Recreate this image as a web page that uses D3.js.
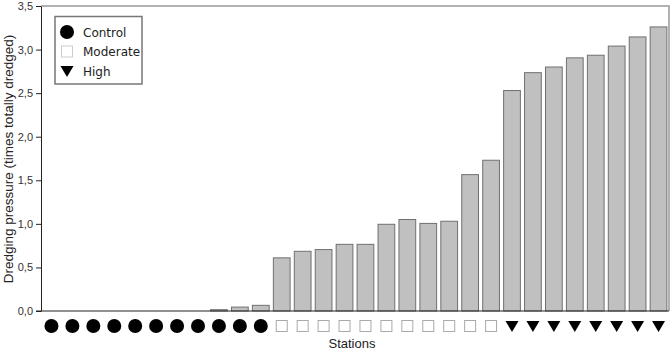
<!DOCTYPE html>
<html>
<head>
<meta charset="utf-8">
<script src="https://cdn.jsdelivr.net/npm/d3@7"></script>
<style>
  body { margin: 0; background: #fff; }
  svg { display: block; }
</style>
</head>
<body>
<div id="wrapper"></div>
<script>
// stations, in order, with their group and dredging pressure
const groups = ["Control", "Moderate", "High"];
const groupCounts = [11, 11, 8];
const pressure = [
	0, 0, 0, 0, 0, 0, 0, 0, 0.015, 0.045, 0.065,
	0.61, 0.685, 0.705, 0.765, 0.765, 0.995, 1.05, 1.005, 1.03, 1.565, 1.73,
	2.53, 2.735, 2.80, 2.905, 2.935, 3.04, 3.145, 3.26
];
const yTicks = [0, 0.5, 1, 1.5, 2, 2.5, 3, 3.5];

const width = 672;
const height = 359;
const margin = {top: 6, right: 3, bottom: 48, left: 41};

// one row per station
let stations = [];
let k = 0;
groups.forEach(function(g, gi){
	for (let j = 0; j < groupCounts[gi]; j++) {
		stations.push({id: k, group: g, value: pressure[k]});
		k++;
	}
});

const canvas = d3.select("#wrapper")
	.append("svg")
	.attr("width", width)
	.attr("height", height);

const xScale = d3.scaleBand()
	.domain(stations.map(d => d.id))
	.range([margin.left, width - margin.right])
	.paddingInner(0.2)
	.paddingOuter(0.1);

const yScale = d3.scaleLinear()
	.domain([0, 3.5])
	.range([height - margin.bottom, margin.top]);

const fmt = d3.format(".1f");

// frame (top and right)
canvas.append("path")
	.attr("d", `M${margin.left},${margin.top}H${width - margin.right}V${height - margin.bottom}`)
	.attr("fill", "none")
	.attr("stroke", "#999")
	.attr("stroke-width", 1.5);

// bars
canvas.selectAll(".bar")
	.data(stations)
	.enter().append("rect")
	.attr("class", "bar")
	.attr("x", d => xScale(d.id))
	.attr("width", xScale.bandwidth())
	.attr("y", d => yScale(d.value))
	.attr("height", d => yScale(0) - yScale(d.value))
	.attr("fill", "#c0c0c0")
	.attr("stroke", "#707070")
	.attr("stroke-width", 1);

// y axis
const yAxis = canvas.append("g")
	.attr("transform", `translate(${margin.left},0)`)
	.call(d3.axisLeft(yScale).tickValues(yTicks).tickSize(5).tickSizeOuter(0)
		.tickFormat(d => fmt(d).replace(".", ",")));
yAxis.select(".domain").attr("stroke", "#222");
yAxis.selectAll(".tick line").attr("stroke", "#222");
yAxis.selectAll("text")
	.attr("font-family", "Liberation Sans, Arial, sans-serif")
	.attr("font-size", 11)
	.attr("fill", "#333")
	.attr("x", -8);

// x axis line
canvas.append("line")
	.attr("x1", margin.left - 5)
	.attr("x2", width - margin.right)
	.attr("y1", yScale(0))
	.attr("y2", yScale(0))
	.attr("stroke", "#222")
	.attr("stroke-width", 1.2);

// group markers under the bars
const markerY = 326;
const marks = canvas.append("g");
stations.forEach(function(d){
	const cx = xScale(d.id) + xScale.bandwidth() / 2;
	if (d.group === "Control") {
		marks.append("circle").attr("cx", cx).attr("cy", markerY).attr("r", 7).attr("fill", "#000");
	} else if (d.group === "Moderate") {
		marks.append("rect").attr("x", cx - 5.5).attr("y", markerY - 5.5)
			.attr("width", 11).attr("height", 11)
			.attr("fill", "#fff").attr("stroke", "#aaa");
	} else {
		marks.append("path")
			.attr("d", `M${cx - 6.5},${markerY - 5}L${cx + 6.5},${markerY - 5}L${cx},${markerY + 6}Z`)
			.attr("fill", "#000");
	}
});

// axis titles
canvas.append("text")
	.attr("x", 352)
	.attr("y", 348)
	.attr("text-anchor", "middle")
	.attr("font-family", "Liberation Sans, Arial, sans-serif")
	.attr("font-size", 13)
	.attr("fill", "#222")
	.text("Stations");

canvas.append("text")
	.attr("transform", "translate(13,159) rotate(-90)")
	.attr("text-anchor", "middle")
	.attr("font-family", "Liberation Sans, Arial, sans-serif")
	.attr("font-size", 13.5)
	.attr("fill", "#222")
	.text("Dredging pressure (times totally dredged)");

// legend
const legend = canvas.append("g");
legend.append("rect")
	.attr("x", 55).attr("y", 16.5)
	.attr("width", 87).attr("height", 67.5)
	.attr("fill", "#fff")
	.attr("stroke", "#777")
	.attr("stroke-width", 1.5);
groups.forEach(function(g, i){
	const ly = 32 + i * 19.5;
	if (i === 0) {
		legend.append("circle").attr("cx", 67).attr("cy", ly).attr("r", 7).attr("fill", "#000");
	} else if (i === 1) {
		legend.append("rect").attr("x", 61.5).attr("y", ly - 5.5).attr("width", 11).attr("height", 11)
			.attr("fill", "#fff").attr("stroke", "#ccc");
	} else {
		legend.append("path")
			.attr("d", `M60.5,${ly - 5}L73.5,${ly - 5}L67,${ly + 6}Z`)
			.attr("fill", "#000");
	}
	legend.append("text")
		.attr("x", 83)
		.attr("y", ly + 4.5)
		.attr("font-family", "DejaVu Sans, Verdana, sans-serif")
		.attr("font-size", 12)
		.attr("fill", "#222")
		.text(g);
});
</script>
</body>
</html>
